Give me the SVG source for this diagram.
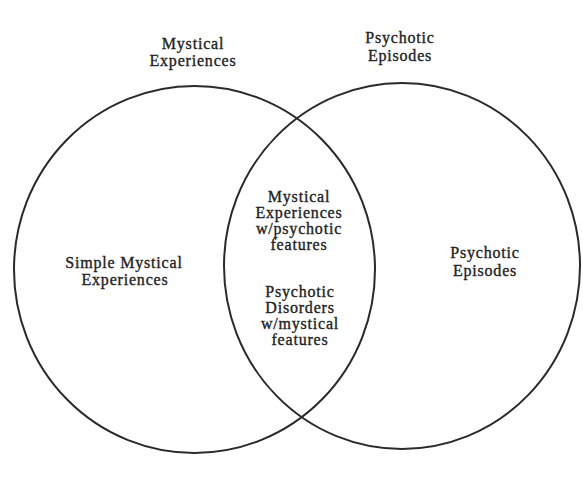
<svg xmlns="http://www.w3.org/2000/svg" width="583" height="497" viewBox="0 0 583 497">
<style>
.ring{fill:none;stroke:#2a2a2a;stroke-width:2}
text{font-family:"Liberation Serif","Times New Roman",serif;font-size:16px;fill:#222;stroke:#222;stroke-width:0.35;text-anchor:middle;letter-spacing:0.8px}
</style>
<rect width="583" height="497" fill="#fff"/>
<g id="set-mystical">
<ellipse class="ring" cx="194.5" cy="269.5" rx="180.5" ry="183.5"/>
<text x="193" y="49">Mystical</text>
<text x="193" y="66">Experiences</text>
</g>
<g id="set-psychotic">
<ellipse class="ring" cx="402" cy="266" rx="178" ry="183"/>
<text x="400" y="43">Psychotic</text>
<text x="400" y="61">Episodes</text>
</g>
<g id="region-simple">
<text x="124" y="268">Simple Mystical</text>
<text x="125" y="285">Experiences</text>
</g>
<g id="region-overlap">
<text x="299" y="202">Mystical</text>
<text x="299" y="218">Experiences</text>
<text x="299" y="234">w/psychotic</text>
<text x="299" y="250">features</text>
<text x="300" y="297">Psychotic</text>
<text x="300" y="313">Disorders</text>
<text x="300" y="329">w/mystical</text>
<text x="300" y="345">features</text>
</g>
<g id="region-psychotic">
<text x="485" y="258">Psychotic</text>
<text x="485" y="276">Episodes</text>
</g>
<g id="connectors"></g>
</svg>
